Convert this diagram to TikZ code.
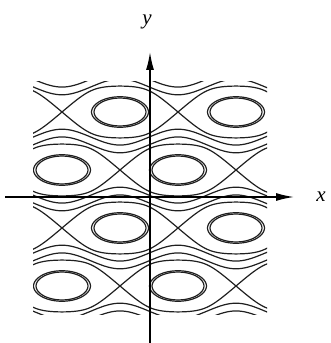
\documentclass[tikz,border=0pt]{standalone}
\usepackage{fontspec}
\setmainfont{Liberation Serif}
\usetikzlibrary{arrows.meta}
\begin{document}
\begin{tikzpicture}[x=1pt,y=1pt,
  curve/.style={line width=1.2pt, black!88},
  axisline/.style={line width=1.5pt, black, -{Latex[length=18pt,width=8pt]}},
  lbl/.style={font=\fontsize{21}{21}\selectfont\itshape, inner sep=0pt},
  declare function={
    sep(\t)=acos(min(1,(-cos(\t)+sqrt(cos(\t)*cos(\t)+0.96))/2.4));
    ovo(\t)=acos(min(1,(-cos(\t)+sqrt(cos(\t)*cos(\t)+5.904))/2.4));
    ovi(\t)=acos(min(1,(-cos(\t)+sqrt(cos(\t)*cos(\t)+6.552))/2.4));
    crest(\t)=-acos(-cos(\t)/2.4);
  }]
\useasboundingbox (0,0) rectangle (331,343);
\begin{scope}
\clip (33,28) rectangle (267,261);
\begin{scope}[shift={(120,231)}, x=0.32222pt, y=0.32222pt]
  % separatrix chains of the four rows
  \foreach \k in {0,1,2,3} {
    \begin{scope}[shift={(180*\k,-180*\k)}]
      \draw[curve] plot[domain=-900:900, samples=361] (\x,{sep(\x)});
      \draw[curve] plot[domain=-900:900, samples=361] (\x,{-sep(\x)});
    \end{scope}
  }
  % open wavy lines between the rows
  \foreach \k in {-1,0,1,2,3} {
    \begin{scope}[shift={(180*\k,-180*\k)}]
      \draw[curve] plot[domain=-900:900, samples=181] (\x,{crest(\x)+12});
      \draw[curve] plot[domain=-900:900, samples=181] (\x,{crest(\x)-12});
    \end{scope}
  }
  % double ovals round the centres
  \foreach \cx/\cy in {0/0,360/0,-180/-180,180/-180,0/-360,360/-360,-180/-540,180/-540} {
    \begin{scope}[shift={(\cx,\cy)}]
      \draw[curve] plot[domain=-90:90, samples=61] ({88.28*sin(\x)},{ovo(88.28*sin(\x))})
        -- plot[domain=90:270, samples=61] ({88.28*sin(\x)},{-ovo(88.28*sin(\x))}) -- cycle;
      \draw[curve] plot[domain=-90:90, samples=61] ({80.5*sin(\x)},{ovi(80.5*sin(\x))})
        -- plot[domain=90:270, samples=61] ({80.5*sin(\x)},{-ovi(80.5*sin(\x))}) -- cycle;
    \end{scope}
  }
\end{scope}
\end{scope}
% axes
\coordinate (xs) at (5,146);
\coordinate (xe) at (294,146);
\coordinate (ys) at (150,0);
\coordinate (ye) at (150,291);
\draw[axisline] (xs) -- (xe);
\draw[axisline] (ys) -- (ye);
\node[lbl] (xl) at (321,146) {x};
\node[lbl] (yl) at (147,321) {y};
\end{tikzpicture}
\end{document}
